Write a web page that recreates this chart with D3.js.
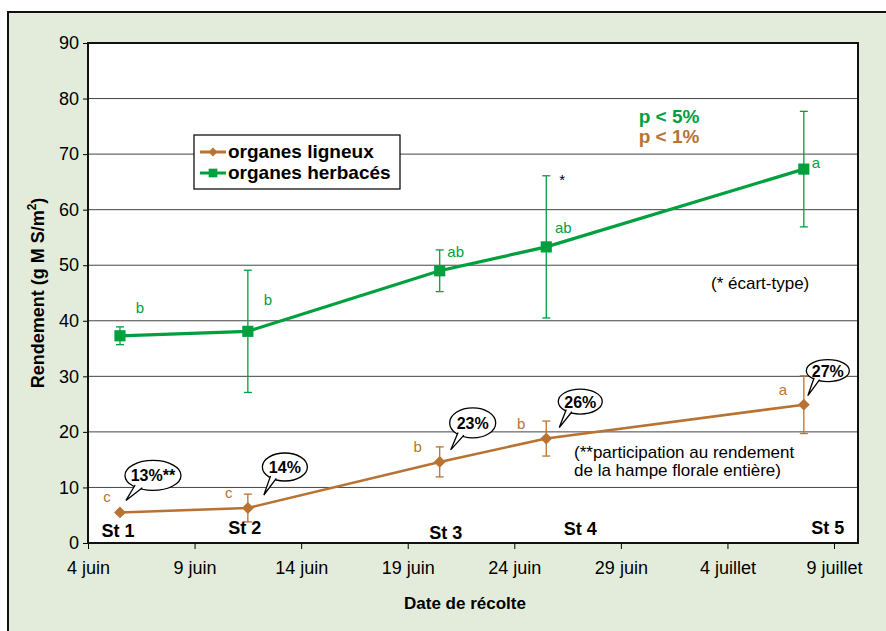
<!DOCTYPE html>
<html>
<head>
<meta charset="utf-8">
<script src="https://cdn.jsdelivr.net/npm/d3@7"></script>
<style>
  body { margin: 0; background: #fff; }
  svg { display: block; font-family: "Liberation Sans", Arial, sans-serif; }
</style>
</head>
<body>
<div id="chart-container"></div>
<script>
// data
let harvestDates = ["2007-06-05T12:00", "2007-06-11T12:00", "2007-06-20T12:00", "2007-06-25T12:00", "2007-07-07T14:00"];
let stageLabels = ["St 1", "St 2", "St 3", "St 4", "St 5"];
let ligneux = [5.5, 6.3, 14.6, 18.8, 24.9];
let ligneuxSd = [0.3, 2.5, 2.7, 3.15, 5.2];
let ligneuxLetters = ["c", "c", "b", "b", "a"];
let herbaces = [37.3, 38.1, 49.0, 53.3, 67.3];
let herbacesSd = [1.6, 11.0, 3.75, 12.8, 10.4];
let herbacesLetters = ["b", "b", "ab", "ab", "a"];
let shares = ["13%**", "14%", "23%", "26%", "27%"];
let tickDates = ["2007-06-04", "2007-06-09", "2007-06-14", "2007-06-19", "2007-06-24", "2007-06-29", "2007-07-04", "2007-07-09"];
let tickLabels = ["4 juin", "9 juin", "14 juin", "19 juin", "24 juin", "29 juin", "4 juillet", "9 juillet"];
let yTicks = [0, 10, 20, 30, 40, 50, 60, 70, 80, 90];

let brown = "#b87333", green = "#00a03e";
let margin = {top: 43, right: 28, bottom: 88, left: 88},
    width = 886 - margin.left - margin.right,
    height = 631 - margin.top - margin.bottom;

let svg = d3.select("#chart-container").append("svg")
    .attr("width", 886).attr("height", 631);

// outer frame
svg.append("rect")
    .attr("x", 8).attr("y", 12).attr("width", 890).attr("height", 630)
    .style("fill", "#e3ecdb").style("stroke", "#111").style("stroke-width", 2);

let g = svg.append("g").attr("transform", "translate(" + margin.left + "," + margin.top + ")");

let parse = d3.isoParse;
let x = d3.scaleTime()
    .domain([parse("2007-06-04T00:00"), parse("2007-07-10T03:00")])
    .range([0, width]);
let y = d3.scaleLinear().domain([0, 90]).range([height, 0]);

g.append("rect").attr("width", width).attr("height", height).style("fill", "#fff");

// gridlines
g.selectAll("line.grid").data(yTicks.slice(1, -1)).enter().append("line")
    .attr("class", "grid")
    .attr("x1", 0).attr("x2", width)
    .attr("y1", d => y(d)).attr("y2", d => y(d))
    .style("stroke", "#444").style("stroke-width", 1);

// axes
let yAxis = d3.axisLeft(y).tickValues(yTicks).tickSize(5).tickPadding(4);
let ya = g.append("g").attr("class", "y axis").call(yAxis);
ya.select(".domain").remove();
ya.selectAll("text").style("font-size", "18px").style("fill", "#000");

let xAxis = d3.axisBottom(x).tickValues(tickDates.map(parse)).tickSize(6).tickPadding(12)
    .tickFormat((d, i) => tickLabels[i]);
let xa = g.append("g").attr("class", "x axis").attr("transform", "translate(0," + height + ")").call(xAxis);
xa.select(".domain").remove();
xa.selectAll("text").style("font-size", "18px").style("fill", "#000");

// plot border
g.append("rect").attr("width", width).attr("height", height)
    .style("fill", "none").style("stroke", "#111").style("stroke-width", 2);

// axis titles
svg.append("text")
    .attr("transform", "translate(44," + (margin.top + height / 2) + ") rotate(-90)")
    .style("text-anchor", "middle").style("font-weight", "bold").style("font-size", "18px")
    .html('Rendement (g M S/m<tspan dy="-8" font-size="12px">2</tspan><tspan dy="8">)</tspan>');
svg.append("text")
    .attr("x", margin.left + width / 2 - 8).attr("y", 609)
    .style("text-anchor", "middle").style("font-weight", "bold").style("font-size", "17px")
    .text("Date de récolte");

function series(values, sd, color, shape, size, rot, lineW) {
    let pts = values.map((v, i) => ({d: parse(harvestDates[i]), v: v, sd: sd[i]}));
    let line = d3.line().x(p => x(p.d)).y(p => y(p.v));
    g.append("path").datum(pts).attr("d", line)
        .style("fill", "none").style("stroke", color).style("stroke-width", lineW);
    let eb = g.append("g");
    pts.forEach(p => {
        let cx = x(p.d);
        eb.append("line").attr("x1", cx).attr("x2", cx).attr("y1", y(p.v - p.sd)).attr("y2", y(p.v + p.sd));
        [p.v - p.sd, p.v + p.sd].forEach(v => {
            eb.append("line").attr("x1", cx - 4).attr("x2", cx + 4).attr("y1", y(v)).attr("y2", y(v));
        });
    });
    eb.selectAll("line").style("stroke", color).style("stroke-width", 1.3);
    g.append("g").selectAll("path").data(pts).enter().append("path")
        .attr("transform", p => "translate(" + x(p.d) + "," + y(p.v) + ") rotate(" + rot + ")")
        .attr("d", d3.symbol().type(shape).size(size))
        .style("fill", color);
    return pts;
}

let hPts = series(herbaces, herbacesSd, green, d3.symbolSquare, 125, 0, 3.2);
let lPts = series(ligneux, ligneuxSd, brown, d3.symbolSquare, 70, 45, 2.6);

// significance letters
let herbDx = [20, 20, 16, 17, 12], herbDy = [-23, -26, -14, -14, -1];
hPts.forEach((p, i) => {
    g.append("text").attr("x", x(p.d) + herbDx[i]).attr("y", y(p.v) + herbDy[i])
        .style("text-anchor", "middle").style("font-size", "15px").style("fill", green)
        .text(herbacesLetters[i]);
});
let ligDx = [-13, -19, -22, -25, -21];
lPts.forEach((p, i) => {
    g.append("text").attr("x", x(p.d) + ligDx[i]).attr("y", y(p.v) - 10)
        .style("text-anchor", "middle").style("font-size", "15px").style("fill", brown)
        .text(ligneuxLetters[i]);
});
g.append("text").attr("x", x(hPts[3].d) + 13).attr("y", y(hPts[3].sd + hPts[3].v) + 9)
    .style("font-size", "15px").text("*");

// stage labels
let stDx = [-2, -3, 6, 34, 24], stDy = [0, -3, 2, -2, -3];
lPts.forEach((p, i) => {
    g.append("text").attr("x", x(p.d) + stDx[i]).attr("y", height - 6 + stDy[i])
        .style("text-anchor", "middle").style("font-weight", "bold").style("font-size", "18px")
        .text(stageLabels[i]);
});

// callouts
let bubble = [
    {cx: 33, cy: -37, rx: 28, ry: 15, tx: 6, ty: -12},
    {cx: 37, cy: -41, rx: 22.5, ry: 14, tx: 16, ty: -13},
    {cx: 33, cy: -39, rx: 23, ry: 15, tx: 11, ty: -12},
    {cx: 34, cy: -37, rx: 22, ry: 12.5, tx: 13, ty: -11},
    {cx: 24, cy: -34, rx: 21.5, ry: 11, tx: 4, ty: -9}
];
lPts.forEach((p, i) => {
    let b = bubble[i], px = x(p.d), py = y(p.v);
    let cx = px + b.cx, cy = py + b.cy;
    let bg = g.append("g");
    bg.append("ellipse").attr("cx", cx).attr("cy", cy).attr("rx", b.rx).attr("ry", b.ry)
        .style("fill", "#fff").style("stroke", "#000").style("stroke-width", 1.3);
    let a1 = 115 * Math.PI / 180, a2 = 135 * Math.PI / 180;
    let p1 = [cx + b.rx * 0.9 * Math.cos(a1), cy + b.ry * 0.9 * Math.sin(a1)];
    let p2 = [cx + b.rx * 0.9 * Math.cos(a2), cy + b.ry * 0.9 * Math.sin(a2)];
    bg.append("path")
        .attr("d", "M" + p1 + "L" + (px + b.tx) + "," + (py + b.ty) + "L" + p2)
        .style("fill", "#fff").style("stroke", "#000").style("stroke-width", 1.3);
    bg.append("text").attr("x", cx).attr("y", cy + 6)
        .style("text-anchor", "middle").style("font-weight", "bold").style("font-size", "16px")
        .text(shares[i]);
});

// legend
let leg = svg.append("g").attr("transform", "translate(194,135)");
leg.append("rect").attr("width", 206).attr("height", 54)
    .style("fill", "#fff").style("stroke", "#111").style("stroke-width", 1.3);
[["organes ligneux", brown, d3.symbolSquare, 40, 45], ["organes herbacés", green, d3.symbolSquare, 75, 0]].forEach((e, i) => {
    let ly = 17 + i * 21;
    leg.append("line").attr("x1", 6).attr("x2", 32).attr("y1", ly).attr("y2", ly)
        .style("stroke", e[1]).style("stroke-width", 3);
    leg.append("path").attr("transform", "translate(19," + ly + ") rotate(" + e[4] + ")")
        .attr("d", d3.symbol().type(e[2]).size(e[3])).style("fill", e[1]);
    leg.append("text").attr("x", 34).attr("y", ly + 6)
        .style("font-weight", "bold").style("font-size", "19px").text(e[0]);
});

// notes
svg.append("text").attr("x", 669).attr("y", 123).style("text-anchor", "middle")
    .style("font-weight", "bold").style("font-size", "19px").style("fill", green).text("p < 5%");
svg.append("text").attr("x", 669).attr("y", 143).style("text-anchor", "middle")
    .style("font-weight", "bold").style("font-size", "19px").style("fill", brown).text("p < 1%");
svg.append("text").attr("x", 711).attr("y", 289).style("font-size", "17px").text("(* écart-type)");
svg.append("text").attr("x", 574).attr("y", 458).style("font-size", "17px").text("(**participation au rendement");
svg.append("text").attr("x", 574).attr("y", 476).style("font-size", "17px").text("de la hampe florale entière)");
</script>
</body>
</html>
